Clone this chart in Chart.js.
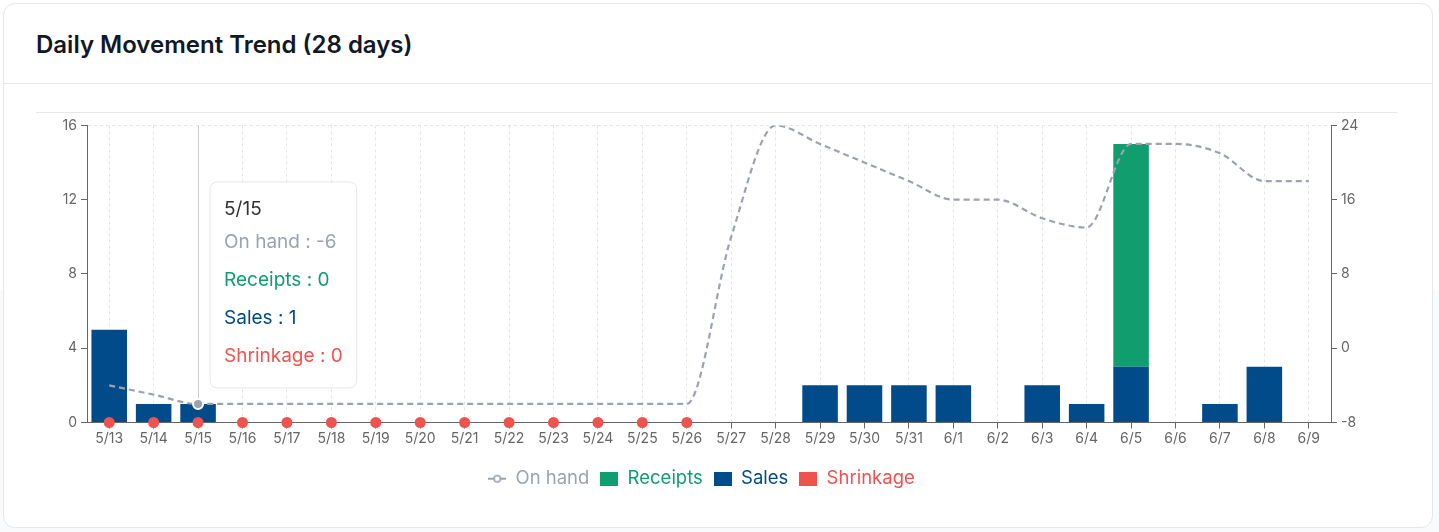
<!DOCTYPE html>
<html>
<head>
<meta charset="utf-8">
<script src="https://cdn.jsdelivr.net/npm/chart.js@4.4.1/dist/chart.umd.min.js"></script>
<style>
  html, body { margin: 0; padding: 0; }
  body {
    width: 1439px; height: 532px; overflow: hidden;
    background: linear-gradient(#fff 0 290px, #f9fafb 290px);
    font-family: Inter, "Noto Sans", sans-serif;
  }
  .card {
    position: absolute; left: 3px; top: 3px;
    width: 1428px; height: 523px;
    background: #fff; border: 1px solid #e5e7eb; border-radius: 12px;
  }
  .card-head {
    height: 80px; border-bottom: 1px solid #e5e7eb;
    display: flex; align-items: center; padding: 2px 0 0 32px; box-sizing: border-box;
  }
  .card-head h2 { margin: 0; font-size: 24px; font-weight: 600; color: #111827; }
  .chart-box {
    position: absolute; left: 32px; top: 108px;
    width: 1361px; height: 395px; border-top: 1px solid #e5e7eb;
  }
</style>
</head>
<body>
<div class="card">
  <div class="card-head"><h2>Daily Movement Trend (28 days)</h2></div>
  <div class="chart-box"><canvas id="trend"></canvas></div>
</div>
<script>
// data
const days = ['5/13','5/14','5/15','5/16','5/17','5/18','5/19','5/20','5/21','5/22','5/23','5/24','5/25','5/26',
              '5/27','5/28','5/29','5/30','5/31','6/1','6/2','6/3','6/4','6/5','6/6','6/7','6/8','6/9']
const onHand = [-4,-5,-6,-6,-6,-6,-6,-6,-6,-6,-6,-6,-6,-6,12,24,22,20,18,16,16,14,13,22,22,21,18,18]
const receipts = [0,0,0,0,0,0,0,0,0,0,0,0,0,0,0,0,0,0,0,0,0,0,0,12,0,0,0,0]
const sales = [5,1,1,0,0,0,0,0,0,0,0,0,0,0,0,0,2,2,2,2,0,2,1,3,0,1,3,0]
const shrinkage = [0,0,0,0,0,0,0,0,0,0,0,0,0,0,0,0,0,0,0,0,0,0,0,0,0,0,0,0]
// red markers on the days with negative stock
const stockoutMarks = [0,0,0,0,0,0,0,0,0,0,0,0,0,0,null,null,null,null,null,null,null,null,null,null,null,null,null,null]
const leftTicks = [0, 4, 8, 12, 16]
const rightTicks = [-8, 0, 8, 16, 24]

const GRAY = '#9ca3af', GREEN = '#109e6e', BLUE = '#024b8b', RED = '#ef5350'
const AXIS = '#666', GRID = '#e3e5e8'

Chart.defaults.font.family = 'Inter, "Noto Sans", sans-serif'
Chart.defaults.color = AXIS

function makeIcon(kind, color) {
  const c = document.createElement('canvas')
  c.width = 18; c.height = 14
  const g = c.getContext('2d')
  if (kind === 'line') {
    g.strokeStyle = color; g.lineWidth = 2
    g.beginPath(); g.moveTo(0, 7); g.lineTo(18, 7); g.stroke()
    g.beginPath(); g.arc(9, 7, 3.2, 0, Math.PI * 2)
    g.fillStyle = '#fff'; g.fill(); g.lineWidth = 1.6; g.stroke()
  } else {
    g.fillStyle = color; g.fillRect(0, 0, 18, 14)
  }
  return c
}

// draw the hover guide line behind the marks
const cursorLine = {
  id: 'cursorLine',
  beforeDatasetsDraw(chart) {
    const act = chart.tooltip.getActiveElements()
    if (!act.length) return
    const x = act[0].element.x, a = chart.chartArea, ctx = chart.ctx
    ctx.save()
    ctx.strokeStyle = '#cccccc'; ctx.lineWidth = 1
    ctx.beginPath(); ctx.moveTo(Math.round(x) + 0.5, a.top); ctx.lineTo(Math.round(x) + 0.5, a.bottom); ctx.stroke()
    ctx.restore()
  }
}

// legend sits a bit left of the canvas centre in the original
const legendNudge = {
  id: 'legendNudge',
  afterLayout(chart) {
    chart.legend.left -= 15
    chart.legend.right -= 15
  }
}

Chart.Tooltip.positioners.besidePoint = function (items) {
  if (!items.length) return false
  return { x: items[0].element.x + 12, y: this.chart.chartArea.top + 159.5 }
}

const legendOrder = [0, 2, 1, 3]
const tipOrder = { 'On hand': 0, 'Receipts': 1, 'Sales': 2, 'Shrinkage': 3 }
const textColors = { 'On hand': GRAY, 'Receipts': GREEN, 'Sales': BLUE, 'Shrinkage': RED }

const chart = new Chart(document.getElementById('trend'), {
  type: 'bar',
  data: {
    labels: days,
    datasets: [
      {
        type: 'line', label: 'On hand', data: onHand, yAxisID: 'y1',
        borderColor: GRAY, borderWidth: 2.2, borderDash: [6, 4],
        cubicInterpolationMode: 'monotone', pointRadius: 0,
        pointHoverRadius: 5, pointHoverBorderWidth: 2,
        pointHoverBackgroundColor: GRAY, pointHoverBorderColor: '#fff',
        icon: makeIcon('line', GRAY)
      },
      { label: 'Sales', data: sales, stack: 'mv', backgroundColor: BLUE, hoverBackgroundColor: BLUE, icon: makeIcon('rect', BLUE) },
      { label: 'Receipts', data: receipts, stack: 'mv', backgroundColor: GREEN, hoverBackgroundColor: GREEN, icon: makeIcon('rect', GREEN) },
      { label: 'Shrinkage', data: shrinkage, stack: 'mv', backgroundColor: RED, hoverBackgroundColor: RED, icon: makeIcon('rect', RED) },
      {
        type: 'line', label: 'stockout', data: stockoutMarks, showLine: false, order: -1,
        pointRadius: 5.5, pointBackgroundColor: RED, pointBorderWidth: 0,
        pointHoverRadius: 5.5, clip: false
      }
    ]
  },
  options: {
    responsive: true, maintainAspectRatio: false, animation: false,
    events: [],
    layout: { padding: { top: 9, left: 0, right: 0, bottom: 10 } },
    datasets: { bar: { barPercentage: 0.8, categoryPercentage: 1 } },
    scales: {
      x: {
        offset: true,
        grid: { offset: false, color: GRID, tickColor: AXIS, tickLength: 6 },
        border: { color: AXIS, dash: [3, 3] },
        ticks: { color: AXIS, font: { size: 14 }, padding: 2, autoSkip: false, maxRotation: 0 },
        afterFit(s) { s.height = 36 }
      },
      y: {
        stacked: true, min: 0, max: 16, position: 'left',
        afterBuildTicks(s) { s.ticks = leftTicks.map(v => ({ value: v })) },
        grid: { color: c => c.tick && c.tick.value === 16 ? GRID : 'rgba(0,0,0,0)', tickColor: AXIS, tickLength: 6 },
        border: { color: AXIS, dash: [3, 3] },
        ticks: { color: AXIS, font: { size: 14 }, padding: 4 },
        afterFit(s) { s.width = 51 }
      },
      y1: {
        min: -8, max: 24, position: 'right',
        afterBuildTicks(s) { s.ticks = rightTicks.map(v => ({ value: v })) },
        grid: { drawOnChartArea: false, tickColor: AXIS, tickLength: 6 },
        border: { color: AXIS },
        ticks: { color: AXIS, font: { size: 14 }, padding: 4 },
        afterFit(s) { s.width = 66 }
      }
    },
    plugins: {
      legend: {
        position: 'bottom',
        labels: {
          usePointStyle: true, pointStyleWidth: 18, boxHeight: 14,
          padding: 11, font: { size: 18.5 },
          generateLabels: ch => legendOrder.map(i => {
            const ds = ch.data.datasets[i]
            return {
              text: ds.label, datasetIndex: i, pointStyle: ds.icon,
              fillStyle: textColors[ds.label], strokeStyle: textColors[ds.label], lineWidth: 0,
              fontColor: textColors[ds.label], hidden: !ch.isDatasetVisible(i)
            }
          })
        }
      },
      tooltip: {
        position: 'besidePoint', xAlign: 'left', yAlign: 'center',
        caretSize: 0, caretPadding: 0,
        backgroundColor: '#fff', borderColor: '#e5e7eb', borderWidth: 1, cornerRadius: 8,
        padding: { top: 15.5, bottom: 20.5, left: 14, right: 14 },
        displayColors: false,
        titleColor: '#333', titleFont: { size: 19, weight: 'normal' }, titleMarginBottom: 11,
        bodyFont: { size: 19 }, bodySpacing: 15,
        filter: item => item.dataset.label !== 'stockout',
        itemSort: (a, b) => tipOrder[a.dataset.label] - tipOrder[b.dataset.label],
        callbacks: {
          label: item => item.dataset.label + ' : ' + item.parsed.y,
          labelTextColor: item => textColors[item.dataset.label]
        }
      }
    }
  },
  plugins: [cursorLine, legendNudge]
})

// tooltip shown for 5/15 like in the screenshot
const at = days.indexOf('5/15')
chart.setActiveElements([{ datasetIndex: 0, index: at }])
chart.tooltip.setActiveElements([0, 1, 2, 3].map(d => ({ datasetIndex: d, index: at })), { x: 0, y: 0 })
chart.update()
</script>
</body>
</html>
